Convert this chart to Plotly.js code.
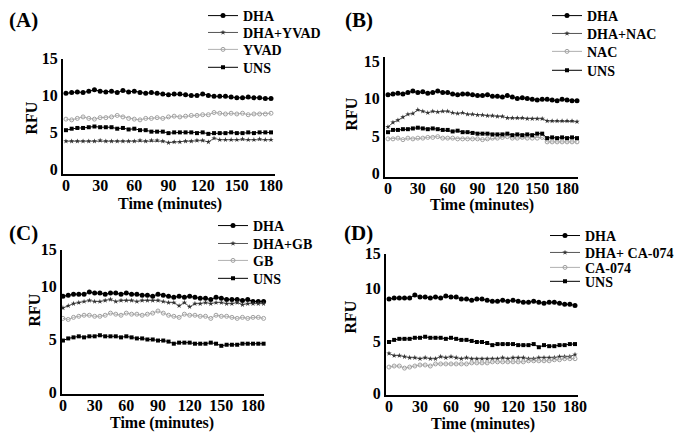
<!DOCTYPE html>
<html>
<head>
<meta charset="utf-8">
<script src="https://cdn.plot.ly/plotly-3.0.1.min.js"></script>
<style>html,body{margin:0;padding:0;background:#fff;}#chart{width:685px;height:439px;}</style>
</head>
<body>
<div id="chart"></div>
<script>
// ---------- data ----------
const time180 = [0,5,10,15,20,25,30,35,40,45,50,55,60,65,70,75,80,85,90,95,100,105,110,115,120,125,130,135,140,145,150,155,160,165,170,175,180];
const time190 = [0,5,10,15,20,25,30,35,40,45,50,55,60,65,70,75,80,85,90,95,100,105,110,115,120,125,130,135,140,145,150,155,160,165,170,175,180,185,190];
const xTickVals = [0,30,60,90,120,150,180];
const xTickText = ["0","30","60","90","120","150","180"];
const yTickTextAll = ["0","5","10","15"];

const panelLabels = ["(A)","(B)","(C)","(D)"];
const xTitle = "Time (minutes)";
const yTitle = "RFU";

const aNames = ["DHA","DHA+YVAD","YVAD","UNS"];
const aDHA = [10.3,10.4,10.5,10.4,10.6,10.8,10.6,10.5,10.6,10.4,10.7,10.5,10.6,10.4,10.3,10.4,10.3,10.2,10.1,10.2,10.2,10.1,10.0,10.0,10.2,10.0,9.9,9.9,9.9,9.8,9.7,9.7,9.8,9.7,9.7,9.6,9.6];
const aDHAYVAD = [3.8,3.8,3.8,3.8,3.8,3.8,3.9,3.8,3.8,3.8,3.8,3.8,3.8,3.9,3.8,3.9,3.9,3.8,3.6,3.7,3.7,3.8,3.8,3.9,3.9,3.7,4.2,4.0,4.0,4.0,4.0,4.1,4.0,4.0,4.1,4.0,4.0];
const aYVAD = [6.8,6.7,6.9,7.1,6.9,6.8,7.0,7.0,7.1,7.3,7.1,6.9,6.8,6.7,6.9,6.9,7.0,6.9,7.1,7.2,7.1,7.2,7.3,7.3,7.4,7.4,7.7,7.6,7.5,7.6,7.5,7.6,7.4,7.5,7.5,7.5,7.6];
const aUNS = [5.3,5.5,5.6,5.6,5.7,5.8,5.7,5.7,5.7,5.5,5.6,5.4,5.5,5.3,5.3,5.1,5.1,5.1,4.9,5.0,5.0,5.0,5.0,4.9,5.0,4.8,4.9,4.9,4.9,5.0,4.9,4.9,5.0,4.9,5.0,5.0,5.0];

const bNames = ["DHA","DHA+NAC","NAC","UNS"];
const bDHA = [10.5,10.6,10.7,10.6,10.8,11.0,10.8,10.9,10.7,10.8,11.0,10.8,10.8,10.6,10.5,10.6,10.6,10.5,10.4,10.4,10.5,10.3,10.3,10.2,10.4,10.2,10.0,10.1,10.0,9.9,9.8,9.9,9.9,9.8,9.7,9.9,9.8,9.7,9.7];
const bDHANAC = [6.2,6.8,7.1,7.5,7.9,8.0,8.5,8.3,8.1,8.3,8.2,8.3,8.3,8.1,8.0,8.1,7.9,7.9,7.8,7.8,7.7,7.7,7.6,7.6,7.4,7.4,7.4,7.4,7.3,7.3,7.3,7.3,7.0,7.0,7.0,7.0,7.0,7.0,6.9];
const bNAC = [4.6,4.6,4.7,4.5,4.7,4.6,4.7,4.7,4.8,4.8,4.9,4.7,4.7,4.7,4.6,4.6,4.6,4.6,4.6,4.5,4.6,4.7,4.7,4.8,4.9,4.7,4.7,4.8,4.7,4.7,4.7,4.8,4.2,4.2,4.2,4.2,4.2,4.2,4.2];
const bUNS = [5.5,5.8,5.8,5.9,5.9,6.0,6.1,6.0,5.9,6.0,5.9,5.8,5.8,5.6,5.7,5.5,5.5,5.4,5.3,5.3,5.3,5.2,5.2,5.2,5.3,5.1,5.2,5.1,5.2,5.1,5.3,5.3,4.7,4.8,4.7,4.8,4.7,4.8,4.7];

const cNames = ["DHA","DHA+GB","GB","UNS"];
const cDHA = [9.1,9.2,9.3,9.3,9.3,9.5,9.4,9.4,9.3,9.4,9.4,9.3,9.4,9.3,9.3,9.2,9.2,9.1,9.3,9.2,9.1,9.0,9.1,9.0,9.1,9.0,8.9,8.9,8.8,9.0,8.9,8.8,8.8,8.8,8.7,8.8,8.6,8.6,8.6];
const cDHAGB = [8.0,8.2,8.4,8.5,8.6,8.7,8.6,8.6,8.7,8.8,8.6,8.7,8.7,8.7,8.6,8.7,8.7,8.7,8.7,8.6,8.5,8.5,8.2,8.5,8.1,8.4,8.4,8.5,8.4,8.5,8.5,8.4,8.4,8.5,8.3,8.4,8.4,8.4,8.4];
const cGB = [7.0,6.9,7.1,7.2,7.3,7.3,7.2,7.2,7.3,7.5,7.4,7.3,7.5,7.4,7.4,7.3,7.4,7.5,7.7,7.5,7.3,7.2,7.1,7.4,7.3,7.3,7.2,7.2,7.0,7.3,7.2,7.2,7.1,7.0,7.1,7.0,7.1,7.1,7.0];
const cUNS = [4.9,5.1,5.2,5.3,5.2,5.3,5.3,5.4,5.3,5.3,5.3,5.2,5.3,5.2,5.1,5.1,5.0,5.0,4.9,4.9,4.8,4.6,4.7,4.7,4.7,4.6,4.6,4.6,4.7,4.6,4.4,4.5,4.5,4.5,4.6,4.6,4.6,4.6,4.6];

const dNames = ["DHA","DHA+ CA-074","CA-074","UNS"];
const dDHA = [9.0,9.1,9.1,9.1,9.1,9.4,9.2,9.2,9.1,9.2,9.1,9.3,9.2,9.2,9.0,9.0,8.9,9.0,9.0,8.9,8.8,8.8,8.9,8.8,8.9,8.8,8.7,8.7,8.8,8.7,8.6,8.7,8.7,8.6,8.5,8.5,8.4];
const dDHACA = [3.8,3.6,3.6,3.5,3.4,3.4,3.3,3.4,3.3,3.3,3.5,3.4,3.5,3.4,3.3,3.4,3.3,3.3,3.3,3.3,3.3,3.3,3.4,3.3,3.4,3.4,3.4,3.3,3.3,3.4,3.4,3.4,3.4,3.5,3.5,3.5,3.7];
const dCA = [2.5,2.6,2.6,2.4,2.5,2.6,2.7,2.7,2.6,2.8,2.8,2.8,2.8,2.8,2.8,2.8,2.9,2.9,2.9,2.9,3.0,3.0,3.0,3.0,3.0,3.0,3.0,3.1,3.1,3.1,3.1,3.1,3.2,3.2,3.3,3.3,3.3];
const dUNS = [4.9,5.1,5.2,5.2,5.2,5.3,5.3,5.4,5.3,5.3,5.3,5.2,5.3,5.2,5.1,5.1,5.0,4.9,4.9,4.8,4.6,4.7,4.7,4.7,4.7,4.6,4.6,4.6,4.7,4.4,4.6,4.5,4.5,4.6,4.6,4.7,4.7];

// ---------- layout helpers ----------
const W = 685, H = 439;
const FONT = "'Liberation Serif', 'Times New Roman', serif";
const fx = p => p / W;
const fy = p => 1 - p / H;

// panel geometry in pixels
const panels = [
  {time: time180, series: [aDHA, aDHAYVAD, aYVAD, aUNS], names: aNames,
   box: [63, 275, 57, 173], xr: [-2.6, 183.5], yr: [-0.68, 15.0], ytv: [0,5,10,15],
   label: [7, 18], legX: 243, legY: [14, 31, 48, 66], xt: [170, 203], yt: [31, 117]},
  {time: time190, series: [bDHA, bDHANAC, bNAC, bUNS], names: bNames,
   box: [385, 578, 55, 176], xr: [-3.0, 191], yr: [-0.53, 15.6], ytv: [0,5,10,15],
   label: [343, 18], legX: 587, legY: [14, 32, 50, 69], xt: [482, 204], yt: [351, 113]},
  {time: time190, series: [cDHA, cDHAGB, cGB, cUNS], names: cNames,
   box: [62, 264, 249, 394], xr: [-0.9, 190.4], yr: [-0.19, 13.5], ytv: [0,5,10,13.5],
   label: [7, 232], legX: 253, legY: [225, 243, 260, 278], xt: [162, 423], yt: [35, 310]},
  {time: time180, series: [dDHA, dDHACA, dCA, dUNS], names: dNames,
   box: [386, 578, 253, 395], xr: [-2.9, 182.9], yr: [-0.19, 13.33], ytv: [0,5,10,13.33],
   label: [342, 232], legX: 585, legY: [235, 252, 267, 281], xt: [483, 424], yt: [351, 317]}
];

const styles = [
  {marker: {symbol: "circle", size: 5, color: "#000"}, line: {color: "#000", width: 1}},
  {marker: {symbol: "star", size: 4, color: "#333"}, line: {color: "#555", width: 1}},
  {marker: {symbol: "circle-open", size: 4, color: "#a0a0a0", line: {width: 1}}, line: {color: "#b0b0b0", width: 1}},
  {marker: {symbol: "square", size: 4, color: "#000"}, line: {color: "#000", width: 1}}
];

const data = [];
const titleFont = {family: FONT, size: 16, color: "#000", weight: "bold"};
const layout = {
  width: W, height: H,
  margin: {l: 0, r: 0, t: 0, b: 0},
  paper_bgcolor: "#fff", plot_bgcolor: "rgba(0,0,0,0)",
  font: {family: FONT, size: 16, color: "#000", weight: "bold"},
  showlegend: true,
  annotations: []
};

let legIdx = 0;
panels.forEach((p, i) => {
  const n = i + 1;
  const xa = "xaxis" + (n === 1 ? "" : n), ya = "yaxis" + (n === 1 ? "" : n);
  const xr = "x" + (n === 1 ? "" : n), yr = "y" + (n === 1 ? "" : n);
  const axisCommon = {
    showline: true, linewidth: 2, linecolor: "#000", showgrid: false, zeroline: false,
    ticks: "", tickfont: {family: FONT, size: 16, color: "#000", weight: "bold"}, fixedrange: true
  };
  layout[xa] = Object.assign({}, axisCommon, {
    domain: [fx(p.box[0]), fx(p.box[1])], range: p.xr, anchor: yr,
    tickmode: "array", tickvals: xTickVals, ticktext: xTickText, ticklabelstandoff: -4
  });
  layout[ya] = Object.assign({}, axisCommon, {
    domain: [fy(p.box[3]), fy(p.box[2])], range: p.yr, anchor: xr,
    tickmode: "array", tickvals: p.ytv, ticktext: yTickTextAll
  });
  layout.annotations.push({
    text: panelLabels[i], xref: "paper", yref: "paper", x: fx(p.label[0]), y: fy(p.label[1]),
    xanchor: "left", yanchor: "middle", showarrow: false,
    font: {family: FONT, size: 21, color: "#000", weight: "bold"}
  });
  layout.annotations.push({
    text: xTitle, xref: "paper", yref: "paper", x: fx(p.xt[0]), y: fy(p.xt[1]),
    xanchor: "center", yanchor: "middle", showarrow: false, font: titleFont
  });
  layout.annotations.push({
    text: yTitle, xref: "paper", yref: "paper", x: fx(p.yt[0]), y: fy(p.yt[1]),
    xanchor: "center", yanchor: "middle", showarrow: false, textangle: -90, font: titleFont
  });
  p.series.forEach((s, k) => {
    legIdx++;
    const lg = "legend" + (legIdx === 1 ? "" : legIdx);
    data.push(Object.assign({
      type: "scatter", mode: "lines+markers", x: p.time, y: s, name: p.names[k],
      xaxis: xr, yaxis: yr, legend: lg, cliponaxis: false
    }, JSON.parse(JSON.stringify(styles[k]))));
    layout[lg] = {
      x: fx(p.legX - 40), y: fy(p.legY[k]), xanchor: "left", yanchor: "middle",
      bgcolor: "rgba(0,0,0,0)", borderwidth: 0, itemclick: false, itemdoubleclick: false,
      font: {family: FONT, size: 14, color: "#000", weight: "bold"}
    };
  });
});

Plotly.newPlot("chart", data, layout, {displayModeBar: false, staticPlot: true});
</script>
</body>
</html>
